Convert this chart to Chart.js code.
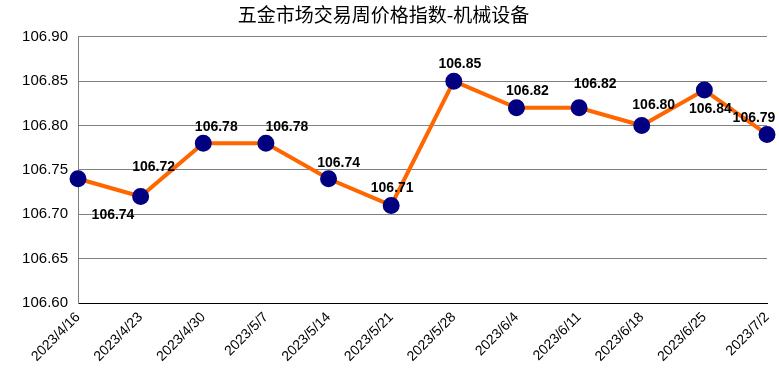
<!DOCTYPE html>
<html lang="zh">
<head>
    <meta charset="UTF-8">
    <title>五金市场交易周价格指数-机械设备</title>
    <script src="https://cdn.jsdelivr.net/npm/chart.js"></script>
    <style>
        body {
            margin: 0;
            padding: 0;
            background: #fff;
        }
        #wrap {
            width: 779px;
            height: 386px;
        }
    </style>
</head>
<body>
<div id="wrap"><canvas id="indexChart"></canvas></div>

<script>
    // 数据
    const weeks = ['2023/4/16', '2023/4/23', '2023/4/30', '2023/5/7', '2023/5/14', '2023/5/21',
        '2023/5/28', '2023/6/4', '2023/6/11', '2023/6/18', '2023/6/25', '2023/7/2'];
    const priceIndex = [106.74, 106.72, 106.78, 106.78, 106.74, 106.71,
        106.85, 106.82, 106.82, 106.80, 106.84, 106.79];
    const yTicks = [106.60, 106.65, 106.70, 106.75, 106.80, 106.85, 106.90];

    // 数据标签相对点的偏移 (像素)
    const labelShift = [[35, 36], [13, -29], [13, -16], [21, -16], [10, -16], [1, -17],
        [6, -17], [11, -17], [16, -24], [12, -20], [6, 19], [-13, -16]];

    const valueLabels = {
        id: 'valueLabels',
        afterDatasetsDraw(chart) {
            const ctx = chart.ctx;
            const meta = chart.getDatasetMeta(0);
            ctx.save();
            ctx.font = 'bold 14px "Liberation Sans", Arial, sans-serif';
            ctx.fillStyle = '#000';
            ctx.textAlign = 'center';
            ctx.textBaseline = 'middle';
            meta.data.forEach(function (pt, i) {
                const s = labelShift[i];
                ctx.fillText(priceIndex[i].toFixed(2), pt.x + s[0], pt.y + s[1]);
            });
            ctx.restore();
        }
    };

    new Chart(document.getElementById('indexChart'), {
        type: 'line',
        data: {
            labels: weeks,
            datasets: [{
                data: priceIndex,
                borderColor: '#ff6600',
                borderWidth: 4,
                pointBackgroundColor: '#000080',
                pointBorderColor: '#000080',
                pointRadius: 6.5,
                tension: 0
            }]
        },
        options: {
            responsive: true,
            maintainAspectRatio: false,
            animation: false,
            layout: {
                padding: { left: 0, right: 12, top: 0, bottom: 0 }
            },
            plugins: {
                legend: { display: false },
                tooltip: { enabled: false },
                title: {
                    display: true,
                    text: '五金市场交易周价格指数-机械设备',
                    color: '#000',
                    font: { family: '"Noto Sans CJK SC", sans-serif', size: 19, weight: 'normal' },
                    padding: { top: 3, bottom: 11 }
                }
            },
            scales: {
                x: {
                    offset: false,
                    grid: { display: false, drawTicks: false },
                    border: { color: '#000', width: 1 },
                    ticks: {
                        color: '#000',
                        font: { family: '"Liberation Sans", Arial, sans-serif', size: 14 },
                        maxRotation: 45,
                        minRotation: 45,
                        padding: 6,
                        autoSkip: false
                    },
                    afterFit(scale) {
                        scale.height = 83;
                        scale.paddingRight = 0;
                    }
                },
                y: {
                    min: yTicks[0],
                    max: yTicks[yTicks.length - 1],
                    afterBuildTicks(scale) {
                        scale.ticks = yTicks.map(v => ({ value: v }));
                    },
                    grid: { color: '#808080', drawTicks: false },
                    border: { color: '#808080', width: 1 },
                    ticks: {
                        color: '#000',
                        font: { family: '"Liberation Sans", Arial, sans-serif', size: 15 },
                        padding: 10,
                        callback: v => v.toFixed(2)
                    },
                    afterFit(scale) { scale.width = 78; }
                }
            }
        },
        plugins: [valueLabels]
    });
</script>
</body>
</html>
